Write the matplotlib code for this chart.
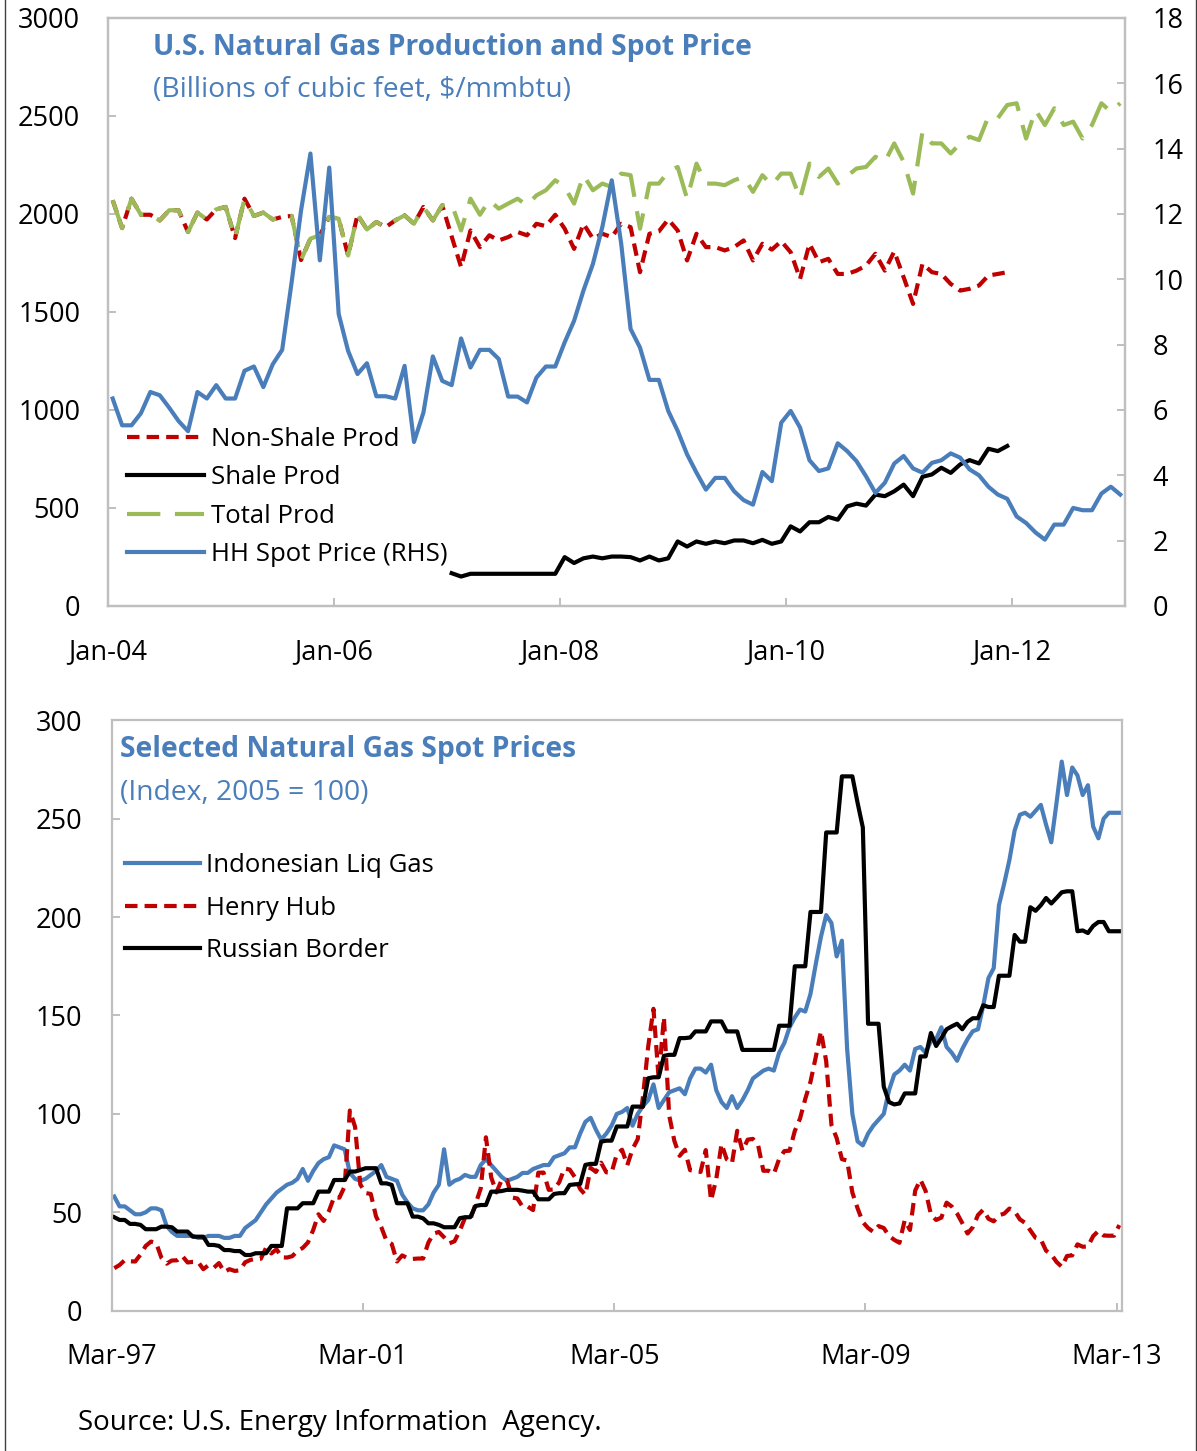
import numpy as np
import matplotlib
matplotlib.use('Agg')
import matplotlib.pyplot as plt
from matplotlib.lines import Line2D

plt.rcParams['font.family'] = ['Open Sans', 'DejaVu Sans']

# top panel: monthly Jan-04 .. Dec-12
top_ticks = ['Jan-04', 'Jan-06', 'Jan-08', 'Jan-10', 'Jan-12']

hh_price = [6.35, 5.53, 5.53, 5.90, 6.55, 6.45, 6.07, 5.66, 5.35, 6.55,
            6.35, 6.76, 6.35, 6.35, 7.20, 7.33, 6.70, 7.40, 7.84, 9.90,
            12.10, 13.85, 10.58, 13.42, 8.94, 7.81, 7.10, 7.43, 6.42, 6.42,
            6.35, 7.35, 5.02, 5.92, 7.64, 6.89, 6.76, 8.19, 7.30, 7.84,
            7.84, 7.56, 6.41, 6.41, 6.23, 6.99, 7.33, 7.33, 8.07, 8.73,
            9.66, 10.47, 11.60, 13.03, 11.10, 8.48, 7.91, 6.92, 6.92, 5.97,
            5.36, 4.64, 4.08, 3.56, 3.92, 3.92, 3.51, 3.24, 3.10, 4.10,
            3.82, 5.61, 5.97, 5.46, 4.46, 4.13, 4.21, 4.98, 4.74, 4.43,
            3.97, 3.46, 3.77, 4.36, 4.59, 4.21, 4.08, 4.38, 4.46, 4.67,
            4.54, 4.18, 4.00, 3.65, 3.41, 3.28, 2.74, 2.54, 2.25, 2.03,
            2.49, 2.49, 3.00, 2.93, 2.93, 3.44, 3.65, 3.41]

# Jan-04 .. Dec-11
nonshale_prod = [2070, 1928, 2078, 1996, 1996, 1967, 2019, 2019, 1908, 2007,
                 1972, 2024, 2036, 1877, 2078, 1990, 2007, 1972, 1985, 1990,
                 1765, 1874, 1891, 1985, 1976, 1788, 1996, 1921, 1959, 1933,
                 1967, 1993, 1950, 2036, 1967, 2044, 1885, 1729, 1916, 1831,
                 1891, 1865, 1882, 1908, 1891, 1950, 1938, 1996, 1925, 1822,
                 1950, 1874, 1899, 1882, 1950, 1933, 1703, 1899, 1911, 1972,
                 1916, 1763, 1899, 1831, 1831, 1814, 1831, 1865, 1763, 1848,
                 1818, 1861, 1805, 1669, 1848, 1754, 1771, 1694, 1694, 1711,
                 1737, 1797, 1711, 1809, 1677, 1541, 1746, 1703, 1694, 1643,
                 1609, 1618, 1635, 1686, 1694, 1703]

# Jan-07 .. Dec-11
shale_prod = [167, 150, 164, 164, 164, 164, 164, 164, 164, 164,
              164, 164, 249, 219, 243, 252, 243, 252, 252, 249,
              232, 252, 232, 243, 329, 303, 329, 317, 329, 320,
              334, 334, 320, 337, 317, 329, 406, 380, 427, 427,
              454, 440, 508, 522, 512, 568, 560, 585, 619, 560,
              659, 671, 705, 679, 722, 744, 727, 802, 790, 816]

# Jan-04 .. Dec-12
total_prod = [2070, 1928, 2078, 1996, 1996, 1967, 2019, 2019, 1908, 2007,
              1972, 2024, 2036, 1877, 2078, 1990, 2007, 1972, 1985, 1990,
              1765, 1874, 1891, 1985, 1976, 1788, 1996, 1921, 1959, 1933,
              1967, 1993, 1950, 2036, 1967, 2044, 2050, 1916, 2078, 1996,
              2070, 2027, 2053, 2078, 2044, 2095, 2121, 2172, 2138, 2053,
              2198, 2121, 2155, 2138, 2206, 2198, 1925, 2155, 2155, 2215,
              2240, 2078, 2257, 2155, 2155, 2147, 2172, 2189, 2113, 2198,
              2147, 2206, 2206, 2078, 2257, 2189, 2232, 2155, 2194, 2232,
              2240, 2292, 2266, 2360, 2266, 2104, 2420, 2360, 2360, 2309,
              2360, 2394, 2377, 2497, 2489, 2556, 2565, 2385, 2530, 2454,
              2539, 2454, 2471, 2385, 2454, 2565, 2522, 2565]

# bottom panel: monthly Mar-97 .. Mar-13, index 2005 = 100
bottom_ticks = ['Mar-97', 'Mar-01', 'Mar-05', 'Mar-09', 'Mar-13']

indonesia_lng = [58, 53, 53, 51, 49, 49, 50, 52, 52, 51,
                 43, 40, 38, 38, 38, 38, 37, 37, 38, 38,
                 38, 37, 37, 38, 38, 42, 44, 46, 50, 54,
                 57, 60, 62, 64, 65, 67, 72, 66, 71, 75,
                 77, 78, 84, 83, 82, 70, 67, 66, 67, 69,
                 71, 74, 68, 67, 66, 59, 55, 52, 51, 51,
                 54, 60, 64, 82, 64, 66, 67, 69, 68, 68,
                 74, 77, 74, 71, 68, 66, 67, 68, 70, 70,
                 72, 73, 74, 74, 78, 79, 80, 83, 83, 90,
                 96, 98, 92, 87, 90, 94, 100, 101, 103, 94,
                 100, 104, 107, 115, 103, 107, 111, 112, 113, 110,
                 118, 123, 123, 121, 125, 112, 106, 103, 109, 103,
                 107, 112, 118, 120, 122, 123, 122, 131, 136, 144,
                 149, 153, 152, 161, 176, 190, 201, 197, 180, 188,
                 133, 100, 86, 84, 90, 94, 97, 100, 112, 120,
                 122, 125, 122, 133, 134, 131, 137, 138, 144, 134,
                 131, 127, 133, 138, 142, 143, 155, 169, 174, 206,
                 217, 229, 244, 252, 253, 251, 254, 257, 247, 238,
                 258, 279, 262, 276, 272, 262, 267, 246, 240, 250,
                 253, 253, 253]

henry_hub = [21.6, 23.2, 25.7, 25.1, 25.0, 28.5, 32.9, 35.1, 34.4, 26.9,
             23.9, 25.5, 25.6, 27.8, 24.5, 24.8, 24.8, 21.1, 23.1, 21.8, 24.2, 19.7,
             21.1, 20.2, 20.5, 24.6, 25.8, 26.3, 26.4, 32.0, 29.1, 31.2, 27.1, 27.0,
             27.7, 30.4, 31.9, 34.7, 41.0, 49.0, 45.6, 50.6, 57.8, 57.4, 63.1, 101.7,
             93.4, 64.1, 59.8, 59.3, 47.9, 42.5, 35.5, 33.9, 25.0, 28.1, 26.7, 26.3,
             26.5, 26.5, 34.6, 39.2, 40.0, 37.3, 34.2, 35.3, 40.6, 47.2, 46.2, 54.2,
             62.1, 88.1, 67.8, 60.1, 66.4, 66.5, 57.5, 57.0, 52.8, 52.9, 51.1, 70.1,
             70.2, 61.4, 61.6, 65.3, 72.3, 71.7, 67.8, 61.8, 58.9, 72.6, 70.5, 75.2,
             70.3, 70.2, 79.5, 81.8, 73.9, 82.1, 87.2, 108.9, 134.3, 153.4, 117.7, 149.1,
             99.3, 86.2, 78.7, 81.8, 71.4, 71.0, 70.5, 81.6, 56.0, 66.9, 84.7, 76.9,
             74.9, 91.4, 81.3, 86.9, 87.3, 84.0, 71.1, 71.1, 69.5, 77.0, 81.1, 81.3,
             91.3, 97.6, 107.6, 116.3, 128.8, 142.0, 126.7, 94.4, 87.7, 77.0, 76.3, 60.0,
             52.0, 45.0, 42.0, 40.0, 43.0, 42.0, 38.0, 36.0, 34.5, 46.0, 41.0, 61.0,
             66.6, 60.8, 49.0, 46.1, 47.3, 54.9, 52.9, 49.4, 44.5, 39.2, 42.4, 48.6,
             51.3, 46.7, 45.4, 48.5, 49.3, 51.9, 50.5, 46.4, 44.6, 40.8, 37.0, 36.2,
             30.5, 28.6, 24.8, 22.3, 27.8, 28.1, 33.7, 32.5, 32.6, 37.9, 40.5, 38.2,
             38.1, 38.1, 43.5]

russian_border = [47.5, 46.1, 46.1, 44.1, 44.1, 43.6, 41.4, 41.4, 41.4, 42.7,
                  42.7, 42.4, 40.2, 40.2, 40.2, 37.6, 37.6, 37.6, 33.4, 33.4,
                  32.9, 30.8, 30.8, 30.3, 30.3, 28.3, 28.3, 29.2, 29.2, 29.2,
                  32.9, 32.9, 32.9, 52.0, 52.0, 52.0, 54.6, 54.6, 54.6, 60.5,
                  60.5, 60.5, 66.4, 66.4, 66.4, 70.7, 70.7, 71.5, 72.4, 72.4,
                  72.4, 64.7, 64.7, 63.9, 54.6, 54.6, 54.6, 47.8, 47.8, 46.9,
                  44.4, 44.4, 43.6, 42.4, 42.4, 42.4, 47.0, 47.5, 47.5, 53.2,
                  53.7, 53.7, 60.5, 60.5, 60.8, 61.4, 61.4, 61.4, 61.0, 60.5,
                  60.5, 56.6, 56.6, 56.6, 59.3, 59.7, 59.7, 63.9, 64.2, 64.4,
                  74.1, 74.6, 74.6, 85.9, 86.4, 86.4, 93.6, 93.6, 93.6, 103.7,
                  103.7, 103.7, 118.1, 118.6, 118.6, 129.5, 130.0, 130.0, 138.5, 138.5,
                  138.8, 141.9, 141.9, 141.9, 147.0, 147.0, 147.0, 141.9, 141.9, 141.9,
                  132.5, 132.5, 132.5, 132.5, 132.5, 132.5, 132.5, 144.8, 144.8, 144.8,
                  175.0, 175.0, 175.0, 202.6, 202.6, 202.6, 243.0, 243.0, 243.0, 271.5,
                  271.5, 271.5, 258.0, 245.5, 145.8, 145.8, 145.8, 113.8, 106.0, 104.8,
                  105.3, 110.4, 110.4, 110.4, 129.2, 129.2, 141.1, 134.5, 138.5, 143.0,
                  144.5, 145.8, 143.0, 146.7, 148.6, 148.6, 155.2, 154.3, 154.3, 170.2,
                  170.2, 170.2, 190.9, 187.5, 187.5, 205.0, 203.2, 206.0, 209.7, 206.9,
                  209.7, 212.6, 213.1, 213.1, 192.8, 193.2, 191.9, 195.5, 197.5, 197.5,
                  192.8, 192.8, 192.8]

BLUE = '#4A7EBB'
RED = '#C00000'
GREEN = '#9BBB59'
GRID = '#BFBFBF'
TICK_FS = 19.5
LEG_FS = 18.5
TITLE_FS = 20.3
LW = 3

fig = plt.figure(figsize=(11.97, 14.51), dpi=100)


def style_axis(ax):
    for sp in ax.spines.values():
        sp.set_color(GRID)
        sp.set_linewidth(1.6)
    ax.tick_params(direction='in', length=6, width=1.4, color=GRID, labelsize=TICK_FS)


# ---------- top panel ----------
ax1 = fig.add_axes([0.0902, 0.5824, 0.8496, 0.4052])
ax2 = ax1.twinx()

x_ns = np.arange(len(nonshale_prod)) + 0.5
x_sh = np.arange(36, 36 + len(shale_prod)) + 0.5
x_tot = np.arange(len(total_prod)) + 0.5
x_hh = np.arange(len(hh_price)) + 0.5

l_ns, = ax1.plot(x_ns, nonshale_prod, color=RED, lw=LW, dashes=(3, 1.7), label='Non-Shale Prod')
l_sh, = ax1.plot(x_sh, shale_prod, color='black', lw=LW, label='Shale Prod')
l_tot, = ax1.plot(x_tot, total_prod, color=GREEN, lw=LW, dashes=(8, 3.5), label='Total Prod')
l_hh, = ax2.plot(x_hh, hh_price, color=BLUE, lw=LW, label='HH Spot Price (RHS)')

ax1.set_xlim(0, 108)
ax1.set_ylim(0, 3000)
ax1.set_yticks(range(0, 3001, 500))
ax2.set_ylim(0, 18)
ax2.set_yticks(range(0, 19, 2))
ax1.set_xticks([0, 24, 48, 72, 96])
ax1.set_xticklabels(top_ticks)
style_axis(ax1)
style_axis(ax2)
ax1.tick_params(axis='x', pad=23)
ax1.tick_params(axis='y', pad=20)
ax2.tick_params(axis='y', pad=20)

fig.text(153 / 1197, 1 - 48 / 1451, 'U.S. Natural Gas Production and Spot Price',
         color=BLUE, fontsize=TITLE_FS, fontweight='bold', va='center')
fig.text(153 / 1197, 1 - 90 / 1451, '(Billions of cubic feet, $/mmbtu)',
         color=BLUE, fontsize=TITLE_FS, va='center')

ax2.legend(handles=[l_ns, l_sh, l_tot, l_hh], loc='upper left',
           bbox_to_anchor=(127 / 1197, 1 - 427 / 1451), bbox_transform=fig.transFigure,
           frameon=False, fontsize=LEG_FS, handlelength=3.0, handletextpad=0.27,
           labelspacing=0.52, borderpad=0, borderaxespad=0)

# ---------- bottom panel ----------
ax3 = fig.add_axes([0.0933, 0.0967, 0.8440, 0.4069])
xb = np.arange(len(henry_hub)) + 0.5

l_lng, = ax3.plot(xb, indonesia_lng, color=BLUE, lw=LW, label='Indonesian Liq Gas')
l_hub, = ax3.plot(xb, henry_hub, color=RED, lw=LW, dashes=(3, 1.7), label='Henry Hub')
l_rus, = ax3.plot(xb, russian_border, color='black', lw=LW, label='Russian Border')

ax3.set_xlim(0, 193)
ax3.set_ylim(0, 300)
ax3.set_yticks(range(0, 301, 50))
ax3.set_xticks([0, 48, 96, 144, 192])
ax3.set_xticklabels(bottom_ticks)
style_axis(ax3)
ax3.tick_params(axis='x', pad=23)
ax3.tick_params(axis='y', pad=21.5)

fig.text(120 / 1197, 1 - 750 / 1451, 'Selected Natural Gas Spot Prices',
         color=BLUE, fontsize=TITLE_FS, fontweight='bold', va='center')
fig.text(120 / 1197, 1 - 793 / 1451, '(Index, 2005 = 100)',
         color=BLUE, fontsize=TITLE_FS, va='center')

ax3.legend(handles=[l_lng, l_hub, l_rus], loc='upper left',
           bbox_to_anchor=(125 / 1197, 1 - 853 / 1451), bbox_transform=fig.transFigure,
           frameon=False, fontsize=LEG_FS, handlelength=2.9, handletextpad=0.27,
           labelspacing=0.69, borderpad=0, borderaxespad=0)

fig.text(78 / 1197, 1 - 1423 / 1451, 'Source: U.S. Energy Information  Agency.',
         fontsize=20, va='center')

# page border lines on both sides
fig.add_artist(Line2D([5 / 1197, 5 / 1197], [0, 1], color='#404040', lw=1))
fig.add_artist(Line2D([1196 / 1197, 1196 / 1197], [0, 1], color='#404040', lw=1))

fig.savefig('out.png', dpi=100)
